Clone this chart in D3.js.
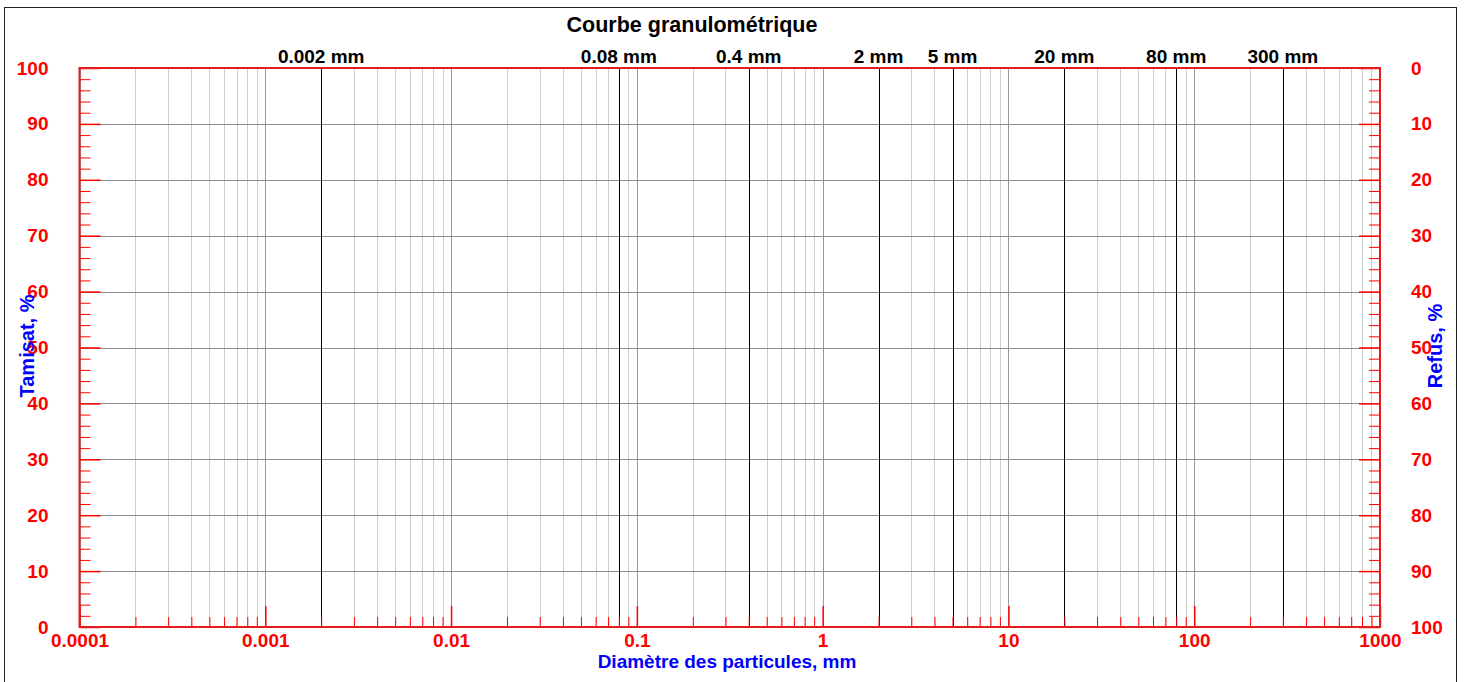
<!DOCTYPE html>
<html>
<head>
<meta charset="utf-8">
<script src="https://cdn.jsdelivr.net/npm/d3@7"></script>
<style>
  html, body { margin: 0; padding: 0; background: #fff; }
  svg { display: block; font-family: "Liberation Sans", Arial, sans-serif; }
</style>
</head>
<body>
<svg id="chart" width="1465" height="682"></svg>
<script>
// Decades of the logarithmic diameter axis (mm) and their labels
const decades = [0.0001, 0.001, 0.01, 0.1, 1, 10, 100, 1000];
const decadeLabels = ["0.0001", "0.001", "0.01", "0.1", "1", "10", "100", "1000"];
// Intermediate multipliers inside each decade
const minorFactors = [2, 3, 4, 5, 6, 7, 8, 9];
// Characteristic particle sizes (mm) marked with black lines
const referenceSizes = [0.002, 0.08, 0.4, 2, 5, 20, 80, 300];
const referenceLabels = ["0.002 mm", "0.08 mm", "0.4 mm", "2 mm", "5 mm", "20 mm", "80 mm", "300 mm"];
// Percentage axes
const passingTicks = [0, 10, 20, 30, 40, 50, 60, 70, 80, 90, 100];
const passingMinor = d3.range(0, 101, 2).filter(v => v % 10 !== 0);
const retainedTicks = [0, 10, 20, 30, 40, 50, 60, 70, 80, 90, 100];

const title = "Courbe granulométrique";
const xTitle = "Diamètre des particules, mm";
const yLeftTitle = "Tamisat, %";
const yRightTitle = "Refus, %";

const svg = d3.select("#chart");
const plotLeft = 79.5, plotRight = 1380, plotTop = 68, plotBottom = 627;

const x = d3.scaleLog().domain([0.0001, 1000]).range([plotLeft, plotRight]);
const yPass = d3.scaleLinear().domain([0, 100]).range([plotBottom, plotTop]);
const yRet = d3.scaleLinear().domain([100, 0]).range([plotBottom, plotTop]);

const RED = "#ff0000";
const FRAME = "#e41c1c";
const BLUE = "#0000ff";
const FONT = "Liberation Sans, Arial, sans-serif";
const TICK_SIZE = 19;

// Outer frame
svg.append("rect")
  .attr("x", 4.5).attr("y", 7.5).attr("width", 1452).attr("height", 690)
  .attr("fill", "none").attr("stroke", "#222").attr("stroke-width", 1);

// Title
svg.append("text")
  .attr("x", 692).attr("y", 32).attr("text-anchor", "middle")
  .attr("font-size", 21.5).attr("font-weight", "bold").attr("fill", "#000")
  .text(title);

const minorValues = [];
decades.slice(0, -1).forEach(d => minorFactors.forEach(f => minorValues.push(d * f)));

const grid = svg.append("g");
const px = v => Math.round(x(v)) + 0.5;

// Minor vertical grid
grid.append("g").selectAll("line").data(minorValues).join("line")
  .attr("x1", px).attr("x2", px)
  .attr("y1", plotTop).attr("y2", plotBottom)
  .attr("stroke", "#cfcfcf").attr("stroke-width", 1);

// Decade vertical grid
grid.append("g").selectAll("line").data(decades).join("line")
  .attr("x1", px).attr("x2", px)
  .attr("y1", plotTop).attr("y2", plotBottom)
  .attr("stroke", "#999").attr("stroke-width", 1);

// Horizontal grid
grid.append("g").selectAll("line").data(passingTicks).join("line")
  .attr("x1", plotLeft).attr("x2", plotRight)
  .attr("y1", d => Math.round(yPass(d)) + 0.5).attr("y2", d => Math.round(yPass(d)) + 0.5)
  .attr("stroke", "#8c8c8c").attr("stroke-width", 1);

// Characteristic size lines
grid.append("g").selectAll("line").data(referenceSizes).join("line")
  .attr("x1", px).attr("x2", px)
  .attr("y1", plotTop).attr("y2", plotBottom)
  .attr("stroke", "#000").attr("stroke-width", 1);

svg.append("g").selectAll("text").data(referenceSizes).join("text")
  .attr("x", d => x(d)).attr("y", 63).attr("text-anchor", "middle")
  .attr("font-size", 19).attr("font-weight", "bold").attr("fill", "#000")
  .text((d, i) => referenceLabels[i]);

// Bottom axis: decade ticks and minor ticks, drawn inward
const xAxis = d3.axisBottom(x)
  .tickValues(decades)
  .tickFormat((d, i) => decadeLabels[i])
  .tickSizeInner(-21).tickSizeOuter(0).tickPadding(30);
const gx = svg.append("g").attr("transform", `translate(0,${plotBottom})`).call(xAxis);
gx.select(".domain").remove();
gx.selectAll(".tick line").attr("stroke", RED).attr("stroke-width", 1.5);
gx.selectAll(".tick text").attr("fill", RED).attr("font-size", TICK_SIZE)
  .attr("font-weight", "bold").attr("font-family", FONT)
  .attr("dy", "0.71em").attr("y", 7);

const xMinorAxis = d3.axisBottom(x).tickValues(minorValues).tickFormat("")
  .tickSizeInner(-10).tickSizeOuter(0);
const gxm = svg.append("g").attr("transform", `translate(0,${plotBottom})`).call(xMinorAxis);
gxm.select(".domain").remove();
gxm.selectAll(".tick line").attr("stroke", RED).attr("stroke-width", 1);

// Left axis (passing %)
const yAxisL = d3.axisLeft(yPass).tickValues(passingTicks)
  .tickSizeInner(-21).tickSizeOuter(0).tickPadding(31);
const gyl = svg.append("g").attr("transform", `translate(${plotLeft},0)`).call(yAxisL);
gyl.select(".domain").remove();
gyl.selectAll(".tick line").attr("stroke", RED).attr("stroke-width", 1.5);
gyl.selectAll(".tick text").attr("fill", RED).attr("font-size", TICK_SIZE)
  .attr("font-weight", "bold").attr("font-family", FONT);

const yMinorL = d3.axisLeft(yPass).tickValues(passingMinor).tickFormat("")
  .tickSizeInner(-11).tickSizeOuter(0);
const gylm = svg.append("g").attr("transform", `translate(${plotLeft},0)`).call(yMinorL);
gylm.select(".domain").remove();
gylm.selectAll(".tick line").attr("stroke", RED).attr("stroke-width", 1);

// Right axis (retained %)
const yAxisR = d3.axisRight(yRet).tickValues(retainedTicks)
  .tickSizeInner(-21).tickSizeOuter(0).tickPadding(31);
const gyr = svg.append("g").attr("transform", `translate(${plotRight},0)`).call(yAxisR);
gyr.select(".domain").remove();
gyr.selectAll(".tick line").attr("stroke", RED).attr("stroke-width", 1.5);
gyr.selectAll(".tick text").attr("fill", RED).attr("font-size", TICK_SIZE)
  .attr("font-weight", "bold").attr("font-family", FONT);

const yMinorR = d3.axisRight(yRet).tickValues(passingMinor).tickFormat("")
  .tickSizeInner(-11).tickSizeOuter(0);
const gyrm = svg.append("g").attr("transform", `translate(${plotRight},0)`).call(yMinorR);
gyrm.select(".domain").remove();
gyrm.selectAll(".tick line").attr("stroke", RED).attr("stroke-width", 1);

// Plot frame
svg.append("rect")
  .attr("x", plotLeft).attr("y", plotTop)
  .attr("width", plotRight - plotLeft).attr("height", plotBottom - plotTop)
  .attr("fill", "none").attr("stroke", FRAME).attr("stroke-width", 2);

// Axis titles
svg.append("text")
  .attr("x", 727).attr("y", 668).attr("text-anchor", "middle")
  .attr("font-size", 19).attr("font-weight", "bold").attr("fill", BLUE)
  .text(xTitle);

svg.append("text")
  .attr("transform", "translate(34,346) rotate(-90)").attr("text-anchor", "middle")
  .attr("font-size", 20).attr("font-weight", "bold").attr("fill", BLUE)
  .text(yLeftTitle);

svg.append("text")
  .attr("transform", "translate(1442,346) rotate(-90)").attr("text-anchor", "middle")
  .attr("font-size", 20).attr("font-weight", "bold").attr("fill", BLUE)
  .text(yRightTitle);
</script>
</body>
</html>
